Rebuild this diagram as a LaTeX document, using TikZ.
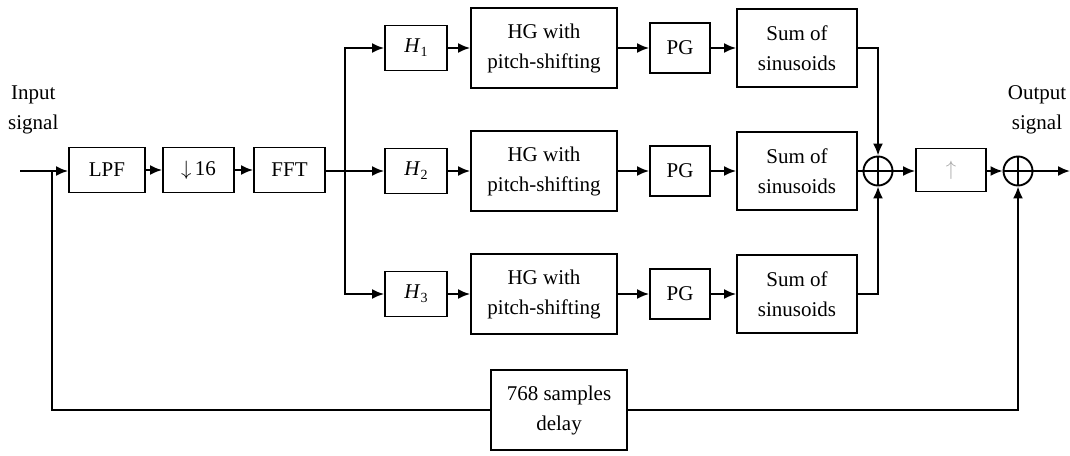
\documentclass[tikz,border=0pt]{standalone}
\usepackage{fontspec}
\setmainfont{Liberation Serif}
\usetikzlibrary{arrows.meta}
\newcommand{\hsub}[1]{\textit{H}\raisebox{-4pt}{\fontsize{14}{14}\selectfont #1}}
\begin{document}
\begin{tikzpicture}[x=1pt,y=-1pt,
  every node/.style={font=\fontsize{21}{30}\selectfont},
  blk/.style={draw,line width=1.9pt,inner sep=0pt,align=center},
  ln/.style={line width=1.9pt},
  arr/.style={line width=1.9pt,-{Latex[length=12pt,width=10pt]}},
  sumc/.style={draw,circle,line width=1.9pt,minimum size=29pt,inner sep=0pt},
  lbl/.style={align=center,inner sep=0pt}]
\useasboundingbox (0,0) rectangle (1070,455);
% main chain
\node[blk,minimum width=76pt,minimum height=45pt] (lpf) at (107,170) {LPF};
\node[blk,minimum width=71pt,minimum height=45pt] (ds) at (198.5,170) {$\downarrow$\,16};
\node[blk,minimum width=71pt,minimum height=45pt] (fft) at (289.5,170) {FFT};
% rows
\foreach \r/\y in {1/48,2/171,3/294}{
  \node[blk,minimum width=62pt,minimum height=45pt] (h\r) at (416,\y) {\hsub{\r}};
  \node[blk,minimum width=146pt,minimum height=80pt] (hg\r) at (544,\y) {HG with\\pitch-shifting};
  \node[blk,minimum width=60pt,minimum height=50pt] (pg\r) at (680,\y) {PG};
  \node[blk,minimum width=120pt,minimum height=78pt] (s\r) at (797,\y) {Sum of\\sinusoids};
}
\node[sumc] (c1) at (878,171) {};
\draw[ln] (c1.north) -- (c1.south) (c1.west) -- (c1.east);
\node[blk,minimum width=70pt,minimum height=43pt] (up) at (951,170) {\color{black!35}$\uparrow$};
\node[sumc] (c2) at (1018,171) {};
\draw[ln] (c2.north) -- (c2.south) (c2.west) -- (c2.east);
\node[blk,minimum width=136pt,minimum height=80pt] (dly) at (559,410) {768 samples\\delay};
% labels
\node[lbl,anchor=west] (inl) at (8,110) {Input\\signal};
\node[lbl] (outl) at (1037,110) {Output\\signal};
% coordinates
\coordinate (in) at (20,171);
\coordinate (j) at (52,171);
\coordinate (b) at (345,171);
\coordinate (out) at (1070,171);
% connectors
\draw[arr] (in) -- (lpf.west |- in);
\draw[arr] (lpf) -- (ds);
\draw[arr] (ds) -- (fft);
\draw[ln] (fft.east |- b) -- (b);
\draw[arr] (b) |- (h1.west);
\draw[arr] (b) -- (h2.west);
\draw[arr] (b) |- (h3.west);
\foreach \r in {1,2,3}{
  \draw[arr] (h\r) -- (hg\r);
  \draw[arr] (hg\r) -- (pg\r);
  \draw[arr] (pg\r) -- (s\r);
}
\draw[arr] (s1.east) -| (c1.north);
\draw[ln] (s2.east) -- (c1.west);
\draw[arr] (s3.east) -| (c1.south);
\draw[arr] (c1.east) -- (up.west |- c1);
\draw[arr] (up.east |- c2) -- (c2.west);
\draw[arr] (c2.east) -- (out);
\draw[ln] (j) |- (dly.west);
\draw[arr] (dly.east) -| (c2.south);
\end{tikzpicture}
\end{document}
